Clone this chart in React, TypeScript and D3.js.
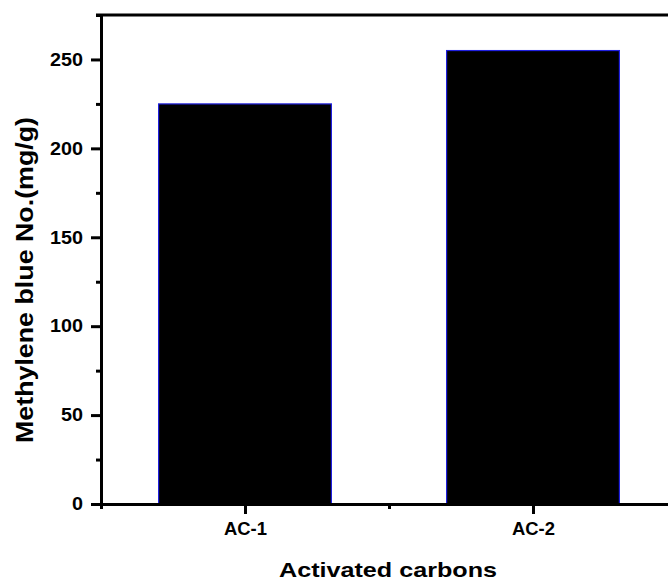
import * as d3 from "d3";
import React, { useEffect, useRef } from "react";

// data
const categories = ["AC-1", "AC-2"];
const values = [225, 255];
const yMajorTicks = [0, 50, 100, 150, 200, 250];
const yMinorTicks = [25, 75, 125, 175, 225, 275];
const xMinorTicks = [0.5, 1.5, 2.5];

const width = 668;
const height = 581;

export default function App() {
  const svgRef = useRef<SVGSVGElement>(null);

  useEffect(() => {
    const svg = d3.select(svgRef.current);
    svg.selectAll("*").remove();

    const font = "'Liberation Sans', Arial, sans-serif";
    const x = d3.scaleLinear().domain([0.5, categories.length + 0.5]).range([101, 677]);
    const y = d3.scaleLinear().domain([0, 275]).range([504, 15]);
    const barWidth = 0.6; // in category units

    // bars
    svg
      .append("g")
      .selectAll("rect")
      .data(values)
      .join("rect")
      .attr("x", (_, i) => x(i + 1 - barWidth / 2))
      .attr("width", x(barWidth) - x(0))
      .attr("y", (d) => y(d))
      .attr("height", (d) => y(0) - y(d))
      .attr("fill", "#000")
      .attr("stroke", "#2020e0")
      .attr("stroke-width", 1.2);

    // top frame line
    svg
      .append("line")
      .attr("x1", x(0.5) - 5)
      .attr("x2", x(categories.length + 0.5))
      .attr("y1", y(275))
      .attr("y2", y(275))
      .attr("stroke", "#000")
      .attr("stroke-width", 3);

    // y axis
    const yAxis = svg.append("g").attr("transform", `translate(${x(0.5)},0)`);
    yAxis.call(
      d3.axisLeft(y).tickValues(yMajorTicks).tickSize(10).tickSizeOuter(0).tickPadding(8).tickFormat(d3.format("d"))
    );
    yAxis.append("g").call(d3.axisLeft(y).tickValues(yMinorTicks).tickSize(5).tickSizeOuter(0).tickFormat(() => ""));

    // x axis
    const xAxis = svg.append("g").attr("transform", `translate(0,${y(0)})`);
    xAxis.call(
      d3
        .axisBottom(x)
        .tickValues(categories.map((_, i) => i + 1))
        .tickSize(10)
        .tickSizeOuter(0)
        .tickPadding(8)
        .tickFormat((d) => categories[(d as number) - 1])
    );
    xAxis.append("g").call(d3.axisBottom(x).tickValues(xMinorTicks).tickSize(5).tickSizeOuter(0).tickFormat(() => ""));

    svg.selectAll(".domain").attr("stroke", "#000").attr("stroke-width", 3);
    svg.selectAll(".tick line").attr("stroke", "#000").attr("stroke-width", 3);
    svg
      .selectAll<SVGTextElement, unknown>(".tick text")
      .attr("fill", "#000")
      .attr("font-size", null)
      .style("font-family", font)
      .style("font-weight", "bold")
      .style("font-size", "18px")
      .attr("lengthAdjust", "spacingAndGlyphs")
      .attr("textLength", function () {
        const t = this.textContent || "";
        if (!t) return null;
        return t.startsWith("AC") ? 43 : t.length * 11;
      });

    // axis titles
    svg
      .append("text")
      .attr("transform", "translate(33,280) rotate(-90)")
      .attr("text-anchor", "middle")
      .attr("textLength", 326)
      .attr("lengthAdjust", "spacingAndGlyphs")
      .style("font-family", font)
      .style("font-weight", "bold")
      .style("font-size", "24px")
      .text("Methylene blue No.(mg/g)");

    svg
      .append("text")
      .attr("x", 388)
      .attr("y", 577)
      .attr("text-anchor", "middle")
      .attr("textLength", 218)
      .attr("lengthAdjust", "spacingAndGlyphs")
      .style("font-family", font)
      .style("font-weight", "bold")
      .style("font-size", "21px")
      .text("Activated carbons");
  }, []);

  return (
    <div style={{ position: "fixed", left: 0, top: 0, width, height, background: "#fff" }}>
      <svg ref={svgRef} width={width} height={height} style={{ display: "block", overflow: "hidden" }} />
    </div>
  );
}
